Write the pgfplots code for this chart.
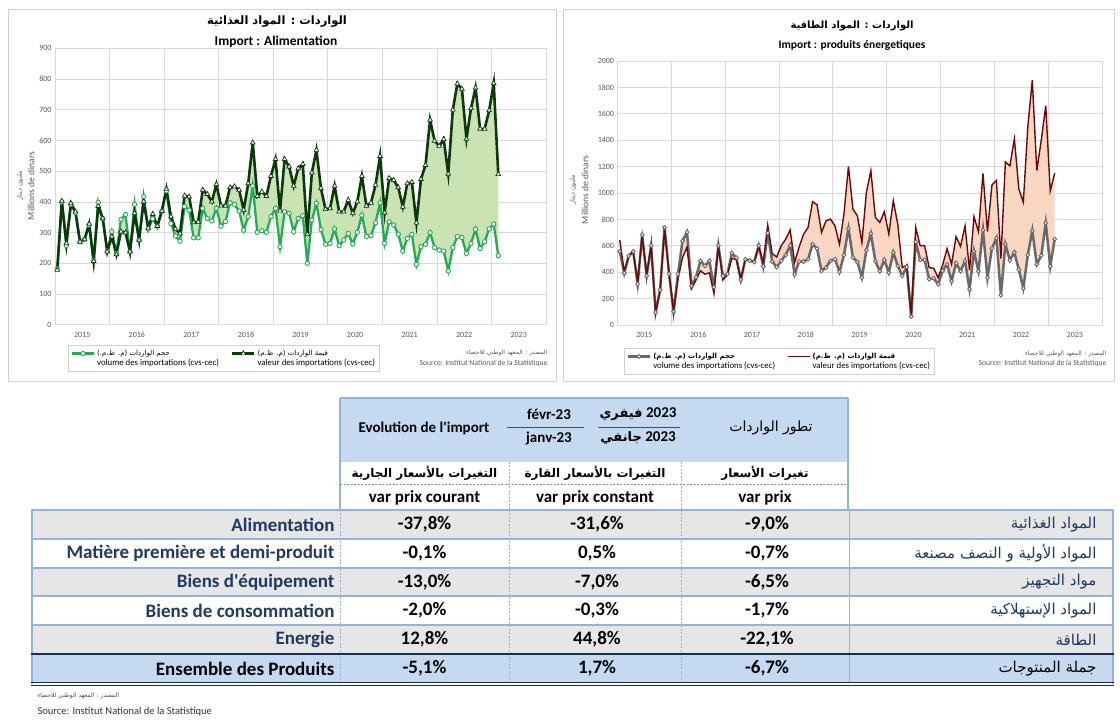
\documentclass[border=0pt]{standalone}
\usepackage{pgfplots}
\pgfplotsset{compat=1.18}
\usepackage{pgfplotstable}
\usepgfplotslibrary{fillbetween}
\usepackage{fontspec}
\setmainfont{Carlito}
\newfontfamily\cf{Carlito}
\newfontfamily\ar[Script=Arabic]{DejaVu Sans}
\TeXXeTstate=1

\definecolor{foodvol}{RGB}{34,172,86}
\definecolor{foodval}{RGB}{12,56,12}
\definecolor{foodfill}{RGB}{201,228,178}
\definecolor{envol}{RGB}{105,105,105}
\definecolor{enval}{RGB}{110,8,8}
\definecolor{enfill}{RGB}{250,215,195}
\definecolor{gridc}{RGB}{217,217,217}
\definecolor{tickc}{RGB}{89,89,89}
\definecolor{hdrblue}{RGB}{197,217,241}
\definecolor{lineblue}{RGB}{149,179,215}
\definecolor{rowgray}{RGB}{231,230,230}
\definecolor{navy}{RGB}{31,56,100}
\definecolor{darknavy}{RGB}{23,45,85}
\definecolor{panelc}{RGB}{208,208,208}

\pgfplotstableread{
x vol val
0.5 182 178
1.5 400 403
2.5 258 265
3.5 392 395
4.5 365 368
5.5 270 270
6.5 278 278
7.5 325 328
8.5 210 207
9.5 398 386
10.5 346 346
11.5 240 238
12.5 303 287
13.5 232 229
14.5 343 303
15.5 359 300
16.5 238 238
17.5 392 363
18.5 276 276
19.5 417 401
20.5 312 315
21.5 345 360
22.5 321 321
23.5 370 370
24.5 436 442
25.5 330 352
26.5 289 312
27.5 272 297
28.5 385 420
29.5 373 417
30.5 283 333
31.5 283 335
32.5 379 439
33.5 346 425
34.5 338 401
35.5 379 457
36.5 321 388
37.5 336 387
38.5 397 447
39.5 392 450
40.5 370 439
41.5 308 374
42.5 352 460
43.5 452 593
44.5 301 419
45.5 306 433
46.5 301 419
47.5 352 484
48.5 379 539
49.5 254 371
50.5 368 539
51.5 363 515
52.5 303 452
53.5 346 509
54.5 355 523
55.5 200 294
56.5 341 495
57.5 395 569
58.5 310 444
59.5 262 376
60.5 265 379
61.5 312 452
62.5 257 368
63.5 276 368
64.5 297 406
65.5 263 363
66.5 301 401
67.5 357 484
68.5 287 387
69.5 290 397
70.5 332 455
71.5 397 549
72.5 265 365
73.5 335 477
74.5 325 471
75.5 295 447
76.5 240 384
77.5 281 460
78.5 294 464
79.5 196 332
80.5 254 474
81.5 262 520
82.5 300 667
83.5 251 599
84.5 243 582
85.5 240 604
86.5 175 491
87.5 251 700
88.5 287 785
89.5 284 768
90.5 232 605
91.5 265 705
92.5 311 772
93.5 248 638
94.5 270 638
95.5 312 698
96.5 328 786
97.5 225 490
}\food

\pgfplotstableread{
x vol val
0.5 557 645
1.5 392 405
2.5 524 520
3.5 557 555
4.5 311 320
5.5 683 680
6.5 372 380
7.5 602 600
8.5 96 96
9.5 266 260
10.5 739 730
11.5 387 390
12.5 101 100
13.5 387 350
14.5 638 510
15.5 703 590
16.5 296 275
17.5 362 340
18.5 486 410
19.5 448 385
20.5 486 395
21.5 286 240
22.5 602 595
23.5 372 340
24.5 386 380
25.5 545 505
26.5 510 495
27.5 342 345
28.5 498 495
29.5 488 490
30.5 476 485
31.5 602 595
32.5 443 470
33.5 696 757
34.5 481 540
35.5 438 515
36.5 486 600
37.5 531 650
38.5 602 720
39.5 385 475
40.5 481 590
41.5 480 688
42.5 498 739
43.5 612 934
44.5 579 911
45.5 410 701
46.5 435 789
47.5 486 802
48.5 498 751
49.5 402 612
50.5 529 840
51.5 731 1202
52.5 511 878
53.5 478 827
54.5 359 625
55.5 567 1004
56.5 693 1169
57.5 483 815
58.5 407 777
59.5 493 858
60.5 397 688
61.5 549 941
62.5 448 764
63.5 372 435
64.5 440 453
65.5 63 68
66.5 630 739
67.5 493 600
68.5 493 600
69.5 347 435
70.5 354 430
71.5 309 359
72.5 410 453
73.5 460 579
74.5 331 460
75.5 468 670
76.5 407 595
77.5 486 751
78.5 271 417
79.5 557 820
80.5 407 706
81.5 719 1149
82.5 357 708
83.5 582 1060
84.5 658 1095
85.5 225 503
86.5 612 1235
87.5 490 1205
88.5 550 1410
89.5 420 1030
90.5 278 930
91.5 530 1500
92.5 715 1855
93.5 460 1170
94.5 525 1400
95.5 773 1660
96.5 445 1015
97.5 650 1150
}\energy

\pgfplotsset{
 chartbase/.style={
  scale only axis,
  xmin=0, xmax=108,
  xtick={6,18,30,42,54,66,78,90,102},
  xticklabels={2015,2016,2017,2018,2019,2020,2021,2022,2023},
  minor xtick={0,12,...,108},
  xminorgrids=true, xmajorgrids=false, ymajorgrids=true,
  grid style={gridc, line width=0.6pt},
  minor grid style={gridc, line width=0.6pt},
  major tick length=0pt, minor tick length=0pt,
  axis line style={gridc, line width=0.6pt},
  tick label style={font=\fontsize{8}{8}\selectfont, text=tickc},
  /pgf/number format/assume math mode=true,
  /pgf/number format/1000 sep={},
  xticklabel style={yshift=-4pt},
  legend cell align=left,
  legend columns=2,
  legend style={draw=panelc, line width=0.6pt, font=\fontsize{8.8}{10.6}\selectfont, inner sep=2.5pt, anchor=north west, align=left, /tikz/every even column/.append style={column sep=10pt}},
  legend image code/.code={\draw[mark repeat=2,mark phase=2,##1] plot coordinates {(0pt,0pt) (11pt,0pt) (22pt,0pt)};},
  legend image post style={yshift=5pt},
 }
}

\begin{document}
\begin{tikzpicture}
\begin{scope}[x=1pt,y=-1pt,shift={(0pt,727pt)}]
\path[use as bounding box] (0,0) rectangle (1120,727);
\draw[panelc, line width=0.8pt] (8,9) rectangle (556,381);
\draw[panelc, line width=0.8pt] (563.5,9) rectangle (1114,381);
% titles
\node[font=\ar\bfseries\fontsize{11.5}{11.5}\selectfont] at (277,22) {\beginR الواردات : المواد الغذائية\endR};
\node[font=\bfseries\fontsize{13.5}{13.5}\selectfont] at (276,41.5) {Import : Alimentation};
\node[font=\ar\bfseries\fontsize{10}{10}\selectfont] at (852,26) {\beginR الواردات : المواد الطاقية\endR};
\node[font=\bfseries\fontsize{11.5}{11.5}\selectfont] at (852,45.5) {Import : produits énergetiques};
% y labels
\node[rotate=90, font=\fontsize{9.5}{9.5}\selectfont, text=tickc] at (31,186) {Millions de dinars};
\node[rotate=90, font=\ar\fontsize{6.5}{6.5}\selectfont, text=tickc] at (20,186) {\beginR مليون دينار\endR};
\node[rotate=90, font=\fontsize{9.5}{9.5}\selectfont, text=tickc] at (585,190) {Millions de dinars};
\node[rotate=90, font=\ar\fontsize{6.5}{6.5}\selectfont, text=tickc] at (573,190) {\beginR مليون دينار\endR};
% sources
\node[anchor=east, font=\ar\fontsize{6}{6}\selectfont, text=tickc] at (551,353) {\beginR المصدر : المعهد الوطني للاحصاء\endR};
\node[anchor=east, font=\fontsize{7.7}{7.7}\selectfont, text=tickc] at (551,363.5) {Source: Institut National de la Statistique};
\node[anchor=east, font=\ar\fontsize{6}{6}\selectfont, text=tickc] at (1110,354) {\beginR المصدر : المعهد الوطني للاحصاء\endR};
\node[anchor=east, font=\fontsize{7.7}{7.7}\selectfont, text=tickc] at (1110,363.5) {Source: Institut National de la Statistique};
\end{scope}

% ---------- left chart ----------
\begin{axis}[chartbase, at={(55pt,402.3pt)}, anchor=south west, width=491pt, height=276.3pt,
  ymin=0, ymax=900, ytick={0,100,...,900},
  legend style={at={(0.0265,-0.0735)}}]
\addplot[draw=none, name path=fv, forget plot] table[x=x,y=vol]{\food};
\addplot[draw=none, name path=fw, forget plot] table[x=x,y=val]{\food};
\addplot[fill=foodfill, draw=none, forget plot] fill between[of=fv and fw];
\addplot[foodvol, line width=2.3pt, mark=*, mark size=2.2pt, mark options={fill=white, draw=foodvol, line width=0.9pt, solid}] table[x=x,y=vol]{\food};
\addlegendentry{{\ar\fontsize{7}{7}\selectfont\beginR حجم الواردات (م. ظ.م.)\endR}\\volume des importations (cvs-cec)}
\addplot[foodval, line width=2.6pt, mark=triangle*, mark size=2.7pt, mark options={fill=white, draw=foodval, line width=0.7pt, solid}] table[x=x,y=val]{\food};
\addlegendentry{{\ar\fontsize{7}{7}\selectfont\beginR قيمة الواردات (م. ظ.م)\endR}\\valeur des importations (cvs-cec)}
\end{axis}

% ---------- right chart ----------
\begin{axis}[chartbase, at={(617.5pt,402pt)}, anchor=south west, width=484.3pt, height=264pt,
  ymin=0, ymax=2000, ytick={0,200,...,2000},
  legend style={at={(0.0134,-0.087)}}]
\addplot[draw=none, name path=ev, forget plot] table[x=x,y=vol]{\energy};
\addplot[draw=none, name path=ew, forget plot] table[x=x,y=val]{\energy};
\addplot[fill=enfill, draw=none, forget plot] fill between[of=ev and ew];
\addplot[envol, line width=2.5pt, mark=*, mark size=1.9pt, mark options={fill=white, draw=envol, line width=0.9pt, solid}] table[x=x,y=vol]{\energy};
\addlegendentry{{\ar\bfseries\fontsize{7}{7}\selectfont\beginR حجم الواردات (م. ظ.م)\endR}\\volume des importations (cvs-cec)}
\addplot[enval, line width=1.4pt] table[x=x,y=val]{\energy};
\addlegendentry{{\ar\bfseries\fontsize{7}{7}\selectfont\beginR قيمة الواردات (م. ظ.م)\endR}\\valeur des importations (cvs-cec)}
\end{axis}

% ---------- table ----------
\begin{scope}[x=1pt,y=-1pt,shift={(0pt,727pt)}]
\fill[hdrblue] (340,398) rectangle (848,462);
\draw[lineblue, line width=1.6pt] (340,398) -- (848,398);
\draw[lineblue, line width=1.6pt] (340,398) -- (340,510);
\draw[lineblue, line width=1.6pt] (848,398) -- (848,510);
\node[font=\cf\bfseries\fontsize{15}{15}\selectfont] at (424,428) {Evolution de l'import};
\node[font=\bfseries\fontsize{15}{15}\selectfont] at (549,414.5) {févr-23};
\draw[black!70, line width=0.7pt] (507,427) -- (584,427);
\node[font=\bfseries\fontsize{15}{15}\selectfont] at (549,438.5) {janv-23};
\node[font=\bfseries\fontsize{15}{15}\selectfont] at (638,414.5) {\mbox{\ar\bfseries\fontsize{13}{13}\selectfont فيفري} 2023};
\draw[black!70, line width=0.7pt] (598,427) -- (680,427);
\node[font=\bfseries\fontsize{15}{15}\selectfont] at (638,438.5) {\mbox{\ar\fontsize{13}{13}\selectfont جانفي} 2023};
\node[font=\ar\fontsize{14}{14}\selectfont] at (771,428) {\beginR تطور الواردات\endR};
% sub headers
\draw[black!45, line width=0.5pt, dash pattern=on 2pt off 1.5pt] (340,484) -- (848,484);
\draw[lineblue, line width=0.7pt, dash pattern=on 2pt off 1.5pt] (509,462) -- (509,510);
\draw[lineblue, line width=0.7pt, dash pattern=on 2pt off 1.5pt] (681,462) -- (681,510);
\node[font=\ar\bfseries\fontsize{12}{12}\selectfont] at (424.5,473.5) {\beginR التغيرات بالأسعار الجارية\endR};
\node[font=\ar\bfseries\fontsize{12}{12}\selectfont] at (595,473.5) {\beginR التغيرات بالأسعار القارة\endR};
\node[font=\ar\bfseries\fontsize{12}{12}\selectfont] at (765,473.5) {\beginR تغيرات الأسعار\endR};
\node[font=\bfseries\fontsize{17}{17}\selectfont] at (424.5,497.5) {var prix courant};
\node[font=\bfseries\fontsize{17}{17}\selectfont] at (595,497.5) {var prix constant};
\node[font=\bfseries\fontsize{17}{17}\selectfont] at (765,497.5) {var prix};
% body
\fill[rowgray] (32,510) rectangle (1113,539);
\fill[rowgray] (32,568) rectangle (1113,596);
\fill[rowgray] (32,625) rectangle (1113,654);
\fill[hdrblue] (32,654) rectangle (1113,683);
\foreach \xx in {340,509,681} \draw[lineblue, line width=0.7pt, dash pattern=on 2pt off 1.5pt] (\xx,510) -- (\xx,683);
\draw[lineblue, line width=0.7pt] (849,510) -- (849,683);
\foreach \yy in {510,539,568,596,625} \draw[lineblue, line width=1.8pt] (31.1,\yy) -- (1113.9,\yy);
\draw[lineblue, line width=1.8pt] (32,510) -- (32,684);
\draw[lineblue, line width=1.8pt] (1113,510) -- (1113,684);
\draw[darknavy, line width=1.6pt] (31.1,654) -- (1113.9,654);
\draw[darknavy, line width=1pt] (31.1,682.5) -- (1113.9,682.5);
\draw[darknavy, line width=1pt] (31.1,685.5) -- (1113.9,685.5);
% rows
\def\rowfr{\cf\bfseries\fontsize{19}{19}\selectfont}
\def\rowar{\ar\fontsize{15}{15}\selectfont}
\node[anchor=east, font=\rowfr, text=navy] at (338,524.5) {Alimentation};
\node[anchor=east, font=\rowfr, text=navy] at (338,553.5) {Matière première et demi-produit};
\node[anchor=east, font=\rowfr, text=navy] at (338,582) {Biens d'équipement};
\node[anchor=east, font=\rowfr, text=navy] at (338,610.5) {Biens de consommation};
\node[anchor=east, font=\rowfr, text=navy] at (338,639.5) {Energie};
\node[anchor=east, font=\rowfr] at (338,668.5) {Ensemble des Produits};
\node[font=\rowfr] at (424.5,524.5) {-37,8\%};
\node[font=\rowfr] at (424.5,553.5) {-0,1\%};
\node[font=\rowfr] at (424.5,582) {-13,0\%};
\node[font=\rowfr] at (424.5,610.5) {-2,0\%};
\node[font=\rowfr] at (424.5,639.5) {12,8\%};
\node[font=\rowfr] at (424.5,668.5) {-5,1\%};
\node[font=\rowfr] at (597,524.5) {-31,6\%};
\node[font=\rowfr] at (597,553.5) {0,5\%};
\node[font=\rowfr] at (597,582) {-7,0\%};
\node[font=\rowfr] at (597,610.5) {-0,3\%};
\node[font=\rowfr] at (597,639.5) {44,8\%};
\node[font=\rowfr] at (597,668.5) {1,7\%};
\node[font=\rowfr] at (767,524.5) {-9,0\%};
\node[font=\rowfr] at (767,553.5) {-0,7\%};
\node[font=\rowfr] at (767,582) {-6,5\%};
\node[font=\rowfr] at (767,610.5) {-1,7\%};
\node[font=\rowfr] at (767,639.5) {-22,1\%};
\node[font=\rowfr] at (767,668.5) {-6,7\%};
\node[anchor=east, font=\rowar, text=navy] at (1100,524.5) {\beginR المواد الغذائية\endR};
\node[anchor=east, font=\rowar, text=navy] at (1100,553.5) {\beginR المواد الأولية و النصف مصنعة\endR};
\node[anchor=east, font=\rowar, text=navy] at (1100,582) {\beginR مواد التجهيز\endR};
\node[anchor=east, font=\rowar, text=navy] at (1100,610.5) {\beginR المواد الإستهلاكية\endR};
\node[anchor=east, font=\rowar, text=navy] at (1100,639.5) {\beginR الطاقة\endR};
\node[anchor=east, font=\rowar] at (1100,668.5) {\beginR جملة المنتوجات\endR};
% source
\node[anchor=west, font=\ar\fontsize{6}{6}\selectfont, text=black!70] at (34,695.5) {\beginR المصدر : المعهد الوطني للاحصاء\endR};
\node[anchor=west, font=\fontsize{10.5}{10.5}\selectfont, text=black!80] at (34,711.5) {Source: Institut National de la Statistique};
\end{scope}
\end{tikzpicture}
\end{document}
